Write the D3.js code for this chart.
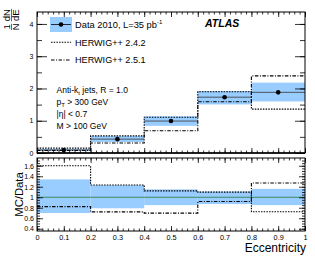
<!DOCTYPE html>
<html>
<head>
<meta charset="utf-8">
<script src="https://cdn.jsdelivr.net/npm/d3@7"></script>
<style>
  body { margin: 0; background: white; }
  svg { display: block; font-family: "Liberation Sans", Arial, sans-serif; }
</style>
</head>
<body>
<div id="vis"></div>
<script>
// bin edges in eccentricity
var binEdges = [0, 0.2, 0.4, 0.6, 0.8, 1.0];
var dataVals = [0.095, 0.43, 0.99, 1.73, 1.88];
var herwig242 = [0.152, 0.53, 1.11, 1.90, 1.36];
var herwig251 = [0.078, 0.31, 0.69, 1.59, 2.39];
// relative uncertainty of data (lower / upper, as ratio to data)
var bandLo = [0.70, 0.79, 0.85, 0.87, 0.85];
var bandHi = [1.34, 1.23, 1.15, 1.11, 1.16];

var xTickLabels = [0, 0.1, 0.2, 0.3, 0.4, 0.5, 0.6, 0.7, 0.8, 0.9, 1];
var yMainTicks = [0, 1, 2, 3, 4];
var yRatioTicks = [0.4, 0.6, 0.8, 1, 1.2, 1.4, 1.6];

var width = 315, height = 259;
var left = 37, right = 305;
var mainTop = 12, mainBottom = 153;
var ratTop = 158, ratBottom = 231;

var svg = d3.select("#vis").append("svg")
    .attr("width", width)
    .attr("height", height);

var x = d3.scaleLinear().domain([0, 1]).range([left, right]);
var yMain = d3.scaleLinear().domain([0, 4.37]).range([mainBottom, mainTop]);
var yRat = d3.scaleLinear().domain([0.357, 1.748]).range([ratBottom, ratTop]);

var bins = dataVals.map(function(d, i) {
    return {
        x0: binEdges[i], x1: binEdges[i + 1], v: d,
        lo: bandLo[i], hi: bandHi[i]
    };
});

function stepPath(yScale, vals) {
    var p = d3.path();
    vals.forEach(function(v, i) {
        var y = yScale(v);
        if (i == 0) p.moveTo(x(binEdges[0]), y);
        else p.lineTo(x(binEdges[i]), y);
        p.lineTo(x(binEdges[i + 1]), y);
    });
    return p.toString();
}

var dotted = "1.5,1.2";
var dashdot = "3.5,1.5,1,1.5";
var blue = "#99ccff";
var tickFs = 7;

// ---- main panel ----
var main = svg.append("g");

main.selectAll("rect.band").data(bins).enter().append("rect")
    .attr("x", function(d) { return x(d.x0); })
    .attr("width", function(d) { return x(d.x1) - x(d.x0); })
    .attr("y", function(d) { return yMain(d.v * d.hi); })
    .attr("height", function(d) { return yMain(d.v * d.lo) - yMain(d.v * d.hi); })
    .attr("fill", blue);

main.selectAll("line.herr").data(bins).enter().append("line")
    .attr("x1", function(d) { return x(d.x0); })
    .attr("x2", function(d) { return x(d.x1); })
    .attr("y1", function(d) { return yMain(d.v); })
    .attr("y2", function(d) { return yMain(d.v); })
    .attr("stroke", "#333")
    .attr("stroke-width", 0.8);

main.append("path")
    .attr("d", stepPath(yMain, herwig242))
    .attr("fill", "none").attr("stroke", "black")
    .attr("stroke-width", 1.1).attr("stroke-dasharray", dotted);

main.append("path")
    .attr("d", stepPath(yMain, herwig251))
    .attr("fill", "none").attr("stroke", "black")
    .attr("stroke-width", 1.1).attr("stroke-dasharray", dashdot);

main.selectAll("circle.pt").data(bins).enter().append("circle")
    .attr("cx", function(d) { return x((d.x0 + d.x1) / 2); })
    .attr("cy", function(d) { return yMain(d.v); })
    .attr("r", 2.3)
    .attr("fill", "black");

// ---- ratio panel ----
var rat = svg.append("g");

rat.selectAll("rect.band").data(bins).enter().append("rect")
    .attr("x", function(d) { return x(d.x0); })
    .attr("width", function(d) { return x(d.x1) - x(d.x0); })
    .attr("y", function(d) { return yRat(d.hi); })
    .attr("height", function(d) { return yRat(d.lo) - yRat(d.hi); })
    .attr("fill", blue);

rat.append("line")
    .attr("x1", x(0)).attr("x2", x(1))
    .attr("y1", yRat(1)).attr("y2", yRat(1))
    .attr("stroke", "#3a8a5c").attr("stroke-width", 1);

var r242 = herwig242.map(function(d, i) { return d / dataVals[i]; });
var r251 = herwig251.map(function(d, i) { return d / dataVals[i]; });

rat.append("path")
    .attr("d", stepPath(yRat, r242))
    .attr("fill", "none").attr("stroke", "black")
    .attr("stroke-width", 1.1).attr("stroke-dasharray", dotted);

rat.append("path")
    .attr("d", stepPath(yRat, r251))
    .attr("fill", "none").attr("stroke", "black")
    .attr("stroke-width", 1.1).attr("stroke-dasharray", dashdot);

// ---- axes (ROOT style, ticks inside) ----
function styleAxis(g, fs) {
    g.select(".domain").remove();
    g.selectAll("line").attr("stroke", "black").attr("stroke-width", 0.8);
    g.selectAll("text").attr("font-size", fs).attr("fill", "black")
        .attr("font-family", "Liberation Sans, Arial, sans-serif");
}

var xMinor = d3.range(0, 51).map(function(i) { return i / 50; });
var fmtX = function(d) { return String(+d.toFixed(1)); };

function xAxes(yTop, yBot, labels) {
    svg.append("g").attr("transform", "translate(0," + yBot + ")")
        .call(d3.axisBottom(x).tickValues(xMinor).tickSize(-2.5).tickFormat(""))
        .call(styleAxis, tickFs);
    svg.append("g").attr("transform", "translate(0," + yBot + ")")
        .call(d3.axisBottom(x).tickValues(xTickLabels).tickSize(-5).tickPadding(3.5)
            .tickFormat(labels ? fmtX : ""))
        .call(styleAxis, tickFs + 0.3);
    svg.append("g").attr("transform", "translate(0," + yTop + ")")
        .call(d3.axisTop(x).tickValues(xMinor).tickSize(-2.5).tickFormat(""))
        .call(styleAxis, tickFs);
    svg.append("g").attr("transform", "translate(0," + yTop + ")")
        .call(d3.axisTop(x).tickValues(xTickLabels).tickSize(-5).tickFormat(""))
        .call(styleAxis, tickFs);
}
xAxes(mainTop, mainBottom, false);
xAxes(ratTop, ratBottom, true);

var yMainMinor = d3.range(0, 9).map(function(i) { return i * 0.5; });
svg.append("g").attr("transform", "translate(" + left + ",0)")
    .call(d3.axisLeft(yMain).tickValues(yMainMinor).tickSize(-5).tickFormat(""))
    .call(styleAxis, tickFs);
svg.append("g").attr("transform", "translate(" + left + ",0)")
    .call(d3.axisLeft(yMain).tickValues(yMainTicks).tickSize(-10).tickPadding(3.5)
        .tickFormat(d3.format("d")))
    .call(styleAxis, tickFs);
svg.append("g").attr("transform", "translate(" + right + ",0)")
    .call(d3.axisRight(yMain).tickValues(yMainMinor).tickSize(-5).tickFormat(""))
    .call(styleAxis, tickFs);
svg.append("g").attr("transform", "translate(" + right + ",0)")
    .call(d3.axisRight(yMain).tickValues(yMainTicks).tickSize(-10).tickFormat(""))
    .call(styleAxis, tickFs);

var yRatMinor = d3.range(8, 35).map(function(i) { return i * 0.05; });
svg.append("g").attr("transform", "translate(" + left + ",0)")
    .call(d3.axisLeft(yRat).tickValues(yRatMinor).tickSize(-3).tickFormat(""))
    .call(styleAxis, tickFs);
svg.append("g").attr("transform", "translate(" + left + ",0)")
    .call(d3.axisLeft(yRat).tickValues(yRatioTicks).tickSize(-6).tickPadding(3)
        .tickFormat(function(d) { return String(+d.toFixed(1)); }))
    .call(styleAxis, tickFs);
svg.append("g").attr("transform", "translate(" + right + ",0)")
    .call(d3.axisRight(yRat).tickValues(yRatMinor).tickSize(-3).tickFormat(""))
    .call(styleAxis, tickFs);
svg.append("g").attr("transform", "translate(" + right + ",0)")
    .call(d3.axisRight(yRat).tickValues(yRatioTicks).tickSize(-6).tickFormat(""))
    .call(styleAxis, tickFs);

// frames
svg.append("rect").attr("x", left).attr("y", mainTop)
    .attr("width", right - left).attr("height", mainBottom - mainTop)
    .attr("fill", "none").attr("stroke", "black").attr("stroke-width", 1);
svg.append("line").attr("x1", left).attr("x2", right)
    .attr("y1", mainBottom).attr("y2", mainBottom)
    .attr("stroke", "black").attr("stroke-width", 1.6);
svg.append("rect").attr("x", left).attr("y", ratTop)
    .attr("width", right - left).attr("height", ratBottom - ratTop)
    .attr("fill", "none").attr("stroke", "black").attr("stroke-width", 1);

// ---- axis titles ----
svg.append("text")
    .attr("x", right + 1).attr("y", 252)
    .attr("text-anchor", "end")
    .attr("font-size", 12)
    .text("Eccentricity");

svg.append("text")
    .attr("transform", "translate(22.5," + ((ratTop + ratBottom) / 2) + ") rotate(-90)")
    .attr("text-anchor", "middle")
    .attr("font-size", 11.3)
    .text("MC/Data");

// 1/N dN/dE as rotated fractions
var yl = svg.append("g").attr("transform", "translate(11.5,30) rotate(-90)");
var fs = 9.5;
function frac(g, x0, num, den) {
    var w = Math.max(num.length, den.length) * 6.2;
    g.append("text").attr("x", x0 + w / 2).attr("y", -1.5).attr("text-anchor", "middle")
        .attr("font-size", fs).text(num);
    g.append("line").attr("x1", x0).attr("x2", x0 + w).attr("y1", 0).attr("y2", 0)
        .attr("stroke", "black").attr("stroke-width", 0.6);
    g.append("text").attr("x", x0 + w / 2).attr("y", fs - 2).attr("text-anchor", "middle")
        .attr("font-size", fs).text(den);
    return x0 + w;
}
var nx = frac(yl, 0, "1", "N");
frac(yl, nx + 2.5, "dN", "dE");

// ---- legend ----
var leg = svg.append("g");
leg.append("rect").attr("x", 50).attr("y", 17).attr("width", 22).attr("height", 15)
    .attr("fill", blue);
leg.append("line").attr("x1", 51).attr("x2", 71).attr("y1", 24.5).attr("y2", 24.5)
    .attr("stroke", "black").attr("stroke-width", 0.8);
leg.append("circle").attr("cx", 61).attr("cy", 24.5).attr("r", 2.3).attr("fill", "black");
var t1 = leg.append("text").attr("x", 75).attr("y", 27.8).attr("font-size", 9.3)
    .text("Data 2010, L=35 pb");
t1.append("tspan").attr("dy", -3.5).attr("font-size", 6).text("-1");

leg.append("line").attr("x1", 51).attr("x2", 71).attr("y1", 42.3).attr("y2", 42.3)
    .attr("stroke", "black").attr("stroke-width", 1.1).attr("stroke-dasharray", dotted);
leg.append("text").attr("x", 75).attr("y", 45.5).attr("font-size", 9.1)
    .text("HERWIG++ 2.4.2");

leg.append("line").attr("x1", 51).attr("x2", 71).attr("y1", 60).attr("y2", 60)
    .attr("stroke", "black").attr("stroke-width", 1.1).attr("stroke-dasharray", dashdot);
leg.append("text").attr("x", 75).attr("y", 63.2).attr("font-size", 9.1)
    .text("HERWIG++ 2.5.1");

svg.append("text").attr("x", 205).attr("y", 27)
    .attr("font-size", 10.5).attr("font-weight", "bold").attr("font-style", "italic")
    .text("ATLAS");

// ---- annotation ----
var ann = svg.append("g").attr("font-size", 8.5);
var a1 = ann.append("text").attr("x", 56.5).attr("y", 92.5).text("Anti-k");
a1.append("tspan").attr("dy", 2).attr("font-size", 6).text("t");
a1.append("tspan").attr("dy", -2).text(" jets, R = 1.0");
var a2 = ann.append("text").attr("x", 56.5).attr("y", 104.5).text("p");
a2.append("tspan").attr("dy", 2).attr("font-size", 6).text("T");
a2.append("tspan").attr("dy", -2).text(" > 300 GeV");
ann.append("text").attr("x", 56.5).attr("y", 116.5).text("|\u03b7| < 0.7");
ann.append("text").attr("x", 56.5).attr("y", 128.5).text("M > 100 GeV");
</script>
</body>
</html>
